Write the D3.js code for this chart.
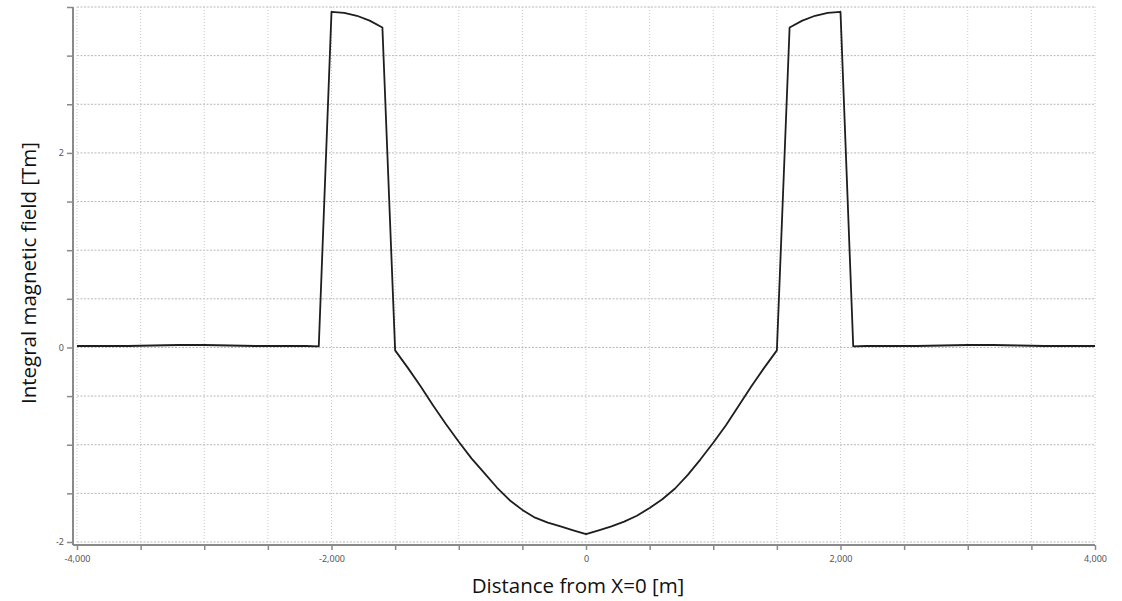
<!DOCTYPE html>
<html>
<head>
<meta charset="utf-8">
<script src="https://cdn.jsdelivr.net/npm/d3@7"></script>
<style>
  html, body { margin: 0; padding: 0; background: #fff; }
  svg { display: block; }
</style>
</head>
<body>
<svg id="chart" width="1122" height="601"></svg>
<script>
// ---- data ----
const distance = [
  -4000, -3800, -3600, -3400, -3200, -3000, -2800, -2600, -2400, -2200, -2100,
  -2000, -1900, -1800, -1700, -1600,
  -1500, -1400, -1300, -1200, -1100, -1000, -900, -800, -700, -600, -500, -400, -300, -200, -100,
  0,
  100, 200, 300, 400, 500, 600, 700, 800, 900, 1000, 1100, 1200, 1300, 1400, 1500,
  1600, 1700, 1800, 1900, 2000,
  2100, 2200, 2400, 2600, 2800, 3000, 3200, 3400, 3600, 3800, 4000
];
const field = [
  0.015, 0.015, 0.015, 0.02, 0.025, 0.025, 0.02, 0.015, 0.015, 0.015, 0.012,
  3.45, 3.44, 3.41, 3.36, 3.29,
  -0.03, -0.21, -0.40, -0.60, -0.79, -0.97, -1.14, -1.29, -1.44, -1.57, -1.67, -1.75, -1.80, -1.84, -1.88,
  -1.92,
  -1.88, -1.84, -1.79, -1.73, -1.65, -1.56, -1.45, -1.31, -1.15, -0.98, -0.80, -0.60, -0.40, -0.21, -0.03,
  3.29, 3.36, 3.41, 3.44, 3.45,
  0.012, 0.015, 0.015, 0.015, 0.02, 0.025, 0.025, 0.02, 0.015, 0.015, 0.015
];
const xTickValues = [-4000, -3500, -3000, -2500, -2000, -1500, -1000, -500, 0, 500, 1000, 1500, 2000, 2500, 3000, 3500, 4000];
const xTickLabels = [-4000, -2000, 0, 2000, 4000];
const yTickValues = [-2, -1.5, -1, -0.5, 0, 0.5, 1, 1.5, 2, 2.5, 3, 3.5];
const yTickLabels = [-2, 0, 2];
const xTitle = "Distance from X=0 [m]";
const yTitle = "Integral magnetic field [Tm]";

// ---- layout ----
const svg = d3.select("#chart");
const L = 77, R = 1095, T = 7, B = 542;
const x = d3.scaleLinear().domain([-4000, 4000]).range([L, R]);
const y = d3.scaleLinear().domain([-2, 3.5]).range([B, T]);

const fmt = d => d3.format(",")(d).replace("\u2212", "-");

// grid
const grid = svg.append("g");
grid.selectAll("line.h").data(yTickValues).join("line")
  .attr("x1", L).attr("x2", R)
  .attr("y1", d => y(d)).attr("y2", d => y(d))
  .attr("stroke", "#b8b8b8").attr("stroke-width", 1)
  .attr("stroke-dasharray", "2,1.5");
grid.selectAll("line.v").data(xTickValues).join("line")
  .attr("y1", T).attr("y2", B)
  .attr("x1", d => x(d)).attr("x2", d => x(d))
  .attr("stroke", "#c8c8c8").attr("stroke-width", 1)
  .attr("stroke-dasharray", "1,2");

// axes
const axisColor = "#8a8a8a";
const gy = svg.append("g").attr("transform", "translate(73,0)")
  .call(d3.axisLeft(y).tickValues(yTickValues).tickSize(6).tickSizeOuter(0)
    .tickFormat(d => yTickLabels.includes(d) ? fmt(d) : ""));
const gx = svg.append("g").attr("transform", "translate(0,545)")
  .call(d3.axisBottom(x).tickValues(xTickValues).tickSize(5).tickSizeOuter(0)
    .tickFormat(d => xTickLabels.includes(d) ? fmt(d) : ""));
[gx, gy].forEach(g => {
  g.select(".domain").attr("stroke", axisColor).attr("stroke-width", 2);
  g.selectAll(".tick line").attr("stroke", axisColor).attr("stroke-width", 1.5);
  g.selectAll(".tick text").attr("fill", "#555").attr("font-size", 9)
    .attr("font-family", "'Noto Sans', sans-serif");
});
gy.select(".domain").attr("d", `M0,${T}V${545}`);
gx.select(".domain").attr("d", `M73,0H${R}`);
gx.selectAll(".tick text").attr("dy", "1.05em");

// line
const line = d3.line().x((d, i) => x(distance[i])).y(d => y(d));
svg.append("path")
  .datum(field)
  .attr("d", line)
  .attr("fill", "none")
  .attr("stroke", "#1e1e1e")
  .attr("stroke-width", 1.8)
  .attr("stroke-linejoin", "round");

// titles
svg.append("text")
  .attr("x", 578).attr("y", 593)
  .attr("text-anchor", "middle")
  .attr("font-family", "'Open Sans', sans-serif")
  .attr("font-size", 20.5)
  .attr("fill", "#111")
  .text(xTitle);
svg.append("text")
  .attr("transform", "translate(36,273) rotate(-90)")
  .attr("text-anchor", "middle")
  .attr("font-family", "'Open Sans', sans-serif")
  .attr("font-size", 20.5)
  .attr("fill", "#111")
  .text(yTitle);
</script>
</body>
</html>
